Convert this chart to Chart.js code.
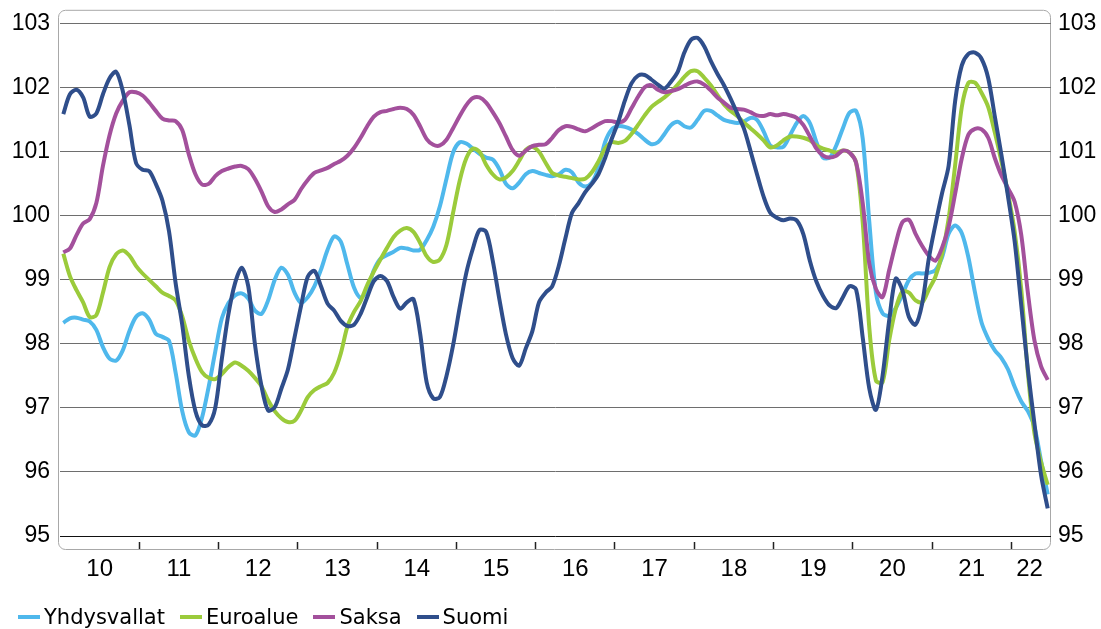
<!DOCTYPE html>
<html>
<head>
<meta charset="utf-8">
<script src="https://cdn.jsdelivr.net/npm/chart.js@4/dist/chart.umd.min.js"></script>
<style>
  html, body { margin: 0; padding: 0; background: #fff; }
  #wrap { position: relative; width: 1101px; height: 629px; }
  #legend { position: absolute; left: 18px; top: 605px; font-family: 'DejaVu Sans', Verdana, sans-serif; font-size: 21px; line-height: 24px; color: #000; white-space: nowrap; }
  #legend .item { display: inline-block; margin-right: 15px; }
  #legend .swatch { display: inline-block; width: 22px; height: 4px; margin-right: 4px; vertical-align: middle; position: relative; top: -1px; }
</style>
</head>
<body>
<div id="wrap">
  <canvas id="chart" width="1101" height="629"></canvas>
  <div id="legend"></div>
</div>
<script>
// monthly series, Jan 2010 .. Jun 2022
const yearLabels = ['10', '11', '12', '13', '14', '15', '16', '17', '18', '19', '20', '21', '22'];
const seriesNames = ['Yhdysvallat', 'Euroalue', 'Saksa', 'Suomi'];
const seriesColors = ['#4fb8ec', '#9bcb3b', '#a3509c', '#2f4e8b'];

const yhdysvallat = [
  98.33, 98.40, 98.41, 98.38, 98.35, 98.22, 97.95, 97.77, 97.74, 97.90, 98.20, 98.42,
  98.48, 98.38, 98.16, 98.11, 98.05, 97.55, 96.95, 96.62, 96.57, 96.85, 97.33, 97.88,
  98.40, 98.64, 98.76, 98.79, 98.71, 98.52, 98.47, 98.68, 99.00, 99.19, 99.08, 98.80,
  98.64, 98.73, 98.90, 99.16, 99.47, 99.68, 99.60, 99.24, 98.88, 98.72, 98.84, 99.15,
  99.33, 99.39, 99.44, 99.50, 99.49, 99.46, 99.47, 99.62, 99.83, 100.15, 100.58, 100.99,
  101.15, 101.13, 101.05, 100.97, 100.91, 100.88, 100.73, 100.50, 100.43, 100.52, 100.65, 100.70,
  100.67, 100.64, 100.62, 100.65, 100.72, 100.68, 100.52, 100.46, 100.52, 100.75, 101.15, 101.35,
  101.40, 101.39, 101.35, 101.28, 101.19, 101.12, 101.15, 101.28, 101.42, 101.47, 101.40, 101.38,
  101.50, 101.64, 101.64, 101.57, 101.50, 101.47, 101.45, 101.47, 101.53, 101.50, 101.32, 101.10,
  101.07, 101.08, 101.26, 101.45, 101.56, 101.45, 101.15, 100.91, 100.91, 101.10, 101.37, 101.61,
  101.64, 101.21, 99.90, 98.80, 98.48, 98.44, 98.56, 98.77, 99.00, 99.10, 99.10, 99.11,
  99.15, 99.35, 99.72, 99.85, 99.73, 99.35, 98.80, 98.33, 98.08, 97.90, 97.78, 97.60,
  97.33, 97.10, 96.95, 96.70, 96.17, 95.65
];

const euroalue = [
  99.41, 99.06, 98.84, 98.65, 98.42, 98.45, 98.80, 99.20, 99.40, 99.46, 99.38, 99.22,
  99.10, 99.00, 98.90, 98.80, 98.75, 98.68, 98.43, 98.05, 97.77, 97.56, 97.47, 97.45,
  97.53, 97.64, 97.71, 97.66, 97.58, 97.47, 97.34, 97.12, 96.95, 96.84, 96.78, 96.80,
  96.96, 97.17, 97.28, 97.34, 97.39, 97.55, 97.85, 98.27, 98.50, 98.67, 98.92, 99.13,
  99.32, 99.50, 99.67, 99.77, 99.81, 99.75, 99.58, 99.37, 99.28, 99.32, 99.55, 100.05,
  100.55, 100.90, 101.05, 101.00, 100.80, 100.65, 100.57, 100.60, 100.70, 100.86, 101.03, 101.08,
  101.00, 100.83, 100.67, 100.63, 100.61, 100.59, 100.57, 100.58, 100.68, 100.85, 101.05, 101.15,
  101.14, 101.17, 101.28, 101.42, 101.57, 101.70, 101.78, 101.85, 101.94, 102.05, 102.17, 102.26,
  102.26, 102.16, 102.04, 101.89, 101.74, 101.64, 101.56, 101.46, 101.37, 101.28, 101.18, 101.07,
  101.10, 101.18, 101.24, 101.24, 101.22, 101.18, 101.10, 101.05, 101.02, 100.99, 101.02, 100.99,
  100.83, 99.90, 98.25, 97.43, 97.40, 98.05, 98.55, 98.82, 98.80, 98.68, 98.65, 98.85,
  99.05, 99.40, 99.95, 100.80, 101.70, 102.08, 102.08, 101.92, 101.70, 101.30, 100.85, 100.35,
  99.75, 98.85, 97.55, 96.60, 96.15, 95.80
];

const saksa = [
  99.43, 99.49, 99.70, 99.88, 99.95, 100.20, 100.78, 101.26, 101.60, 101.80, 101.93, 101.93,
  101.88, 101.77, 101.64, 101.52, 101.49, 101.48, 101.34, 100.96, 100.65, 100.49, 100.50, 100.62,
  100.70, 100.74, 100.77, 100.78, 100.73, 100.58, 100.38, 100.15, 100.06, 100.10, 100.18, 100.25,
  100.42, 100.56, 100.67, 100.71, 100.75, 100.81, 100.86, 100.94, 101.06, 101.22, 101.40, 101.55,
  101.62, 101.64, 101.67, 101.69, 101.67, 101.58, 101.40, 101.20, 101.11, 101.10, 101.19, 101.37,
  101.56, 101.73, 101.84, 101.85, 101.77, 101.62, 101.45, 101.24, 101.03, 100.94, 101.02, 101.09,
  101.11, 101.12, 101.22, 101.34, 101.40, 101.39, 101.35, 101.32, 101.37, 101.43, 101.48, 101.48,
  101.46, 101.50, 101.68, 101.86, 102.01, 102.04, 101.97, 101.93, 101.95, 101.98, 102.03, 102.08,
  102.10, 102.05, 101.96, 101.85, 101.77, 101.69, 101.67, 101.66, 101.62, 101.57, 101.56, 101.59,
  101.57, 101.59, 101.57, 101.53, 101.42, 101.24, 101.05, 100.94, 100.91, 100.94, 101.02, 100.99,
  100.83, 100.20, 99.25, 98.86, 98.73, 99.15, 99.57, 99.90, 99.94, 99.72, 99.53, 99.38,
  99.30, 99.50, 99.83, 100.35, 100.90, 101.27, 101.36, 101.35, 101.22, 100.90, 100.63, 100.43,
  100.22, 99.70, 98.80, 98.05, 97.65, 97.44
];

const suomi = [
  101.59, 101.90, 101.97, 101.85, 101.55, 101.60, 101.90, 102.15, 102.25, 101.95, 101.42, 100.83,
  100.72, 100.70, 100.50, 100.24, 99.76, 98.95, 98.30, 97.50, 96.95, 96.73, 96.74, 97.00,
  97.77, 98.47, 98.95, 99.19, 98.90, 98.00, 97.34, 96.96, 97.01, 97.30, 97.60, 98.10,
  98.60, 99.05, 99.14, 98.90, 98.63, 98.52, 98.36, 98.28, 98.30, 98.47, 98.73, 98.98,
  99.06, 98.98, 98.73, 98.55, 98.65, 98.70, 98.17, 97.40, 97.15, 97.17, 97.50, 97.98,
  98.57, 99.11, 99.49, 99.78, 99.75, 99.30, 98.70, 98.15, 97.78, 97.66, 97.93, 98.20,
  98.65, 98.80, 98.90, 99.22, 99.65, 100.05, 100.20, 100.37, 100.50, 100.65, 100.90, 101.20,
  101.47, 101.80, 102.07, 102.19, 102.20, 102.13, 102.05, 101.99, 102.10, 102.25, 102.55, 102.75,
  102.78, 102.65, 102.42, 102.22, 102.04, 101.83, 101.60, 101.37, 101.02, 100.65, 100.30, 100.05,
  99.97, 99.93, 99.96, 99.93, 99.72, 99.30, 98.97, 98.75, 98.60, 98.56, 98.73, 98.90,
  98.85, 98.10, 97.30, 96.97, 97.50, 98.36, 99.02, 98.84, 98.42, 98.30, 98.63, 99.33,
  99.86, 100.35, 100.78, 101.80, 102.35, 102.53, 102.55, 102.45, 102.15, 101.55, 100.95, 100.30,
  99.60, 98.60, 97.60, 96.75, 95.95, 95.43
];

const allSeries = [yhdysvallat, euroalue, saksa, suomi];
const monthCount = suomi.length;

// year boundaries get tick marks, year middles get the labels
const boundaryTicks = [];
const labelTicks = [];
for (let k = 0; k < yearLabels.length; k++) {
  if (k > 0) boundaryTicks.push(k * 12);
  const full = (k + 1) * 12 <= monthCount;
  // a partial last year is labelled midway between its start and the last point
  const mid = full ? k * 12 + 6 : (k * 12 + monthCount - 0.5) / 2;
  labelTicks.push({ value: mid, label: yearLabels[k] });
}

const plotBorder = {
  id: 'plotBorder',
  beforeDraw(chart) {
    const { ctx, chartArea } = chart;
    const x = chartArea.left - 2, y = chartArea.top - 14;
    const w = chartArea.right - 1 - x, h = chartArea.bottom + 13 - y;
    ctx.save();
    ctx.strokeStyle = '#a8a8a8';
    ctx.lineWidth = 1;
    ctx.beginPath();
    ctx.roundRect(x + 0.5, y + 0.5, w, h, 7);
    ctx.stroke();
    ctx.restore();
  }
};

const tickFont = { family: "'Liberation Sans', Arial, sans-serif", size: 23 };

new Chart(document.getElementById('chart'), {
  type: 'line',
  data: {
    datasets: allSeries.map((values, s) => ({
      label: seriesNames[s],
      data: values.map((v, i) => ({ x: i + 0.5, y: v })),
      borderColor: seriesColors[s],
      backgroundColor: seriesColors[s],
      borderWidth: 4,
      pointRadius: 0,
      tension: 0.3,
      fill: false,
      order: allSeries.length - s // later series on top, like the original
    }))
  },
  options: {
    responsive: false,
    animation: false,
    layout: { padding: { top: 22, left: 0, right: 0, bottom: 0 } },
    plugins: {
      legend: { display: false },
      tooltip: { enabled: false }
    },
    scales: {
      x: {
        type: 'linear',
        min: 0,
        max: monthCount,
        afterBuildTicks: (scale) => {
          const ticks = boundaryTicks.map(v => ({ value: v }))
            .concat(labelTicks.map(t => ({ value: t.value })));
          ticks.sort((a, b) => a.value - b.value);
          scale.ticks = ticks;
        },
        afterFit: (scale) => { scale.height = 93; },
        border: { display: false },
        grid: {
          drawOnChartArea: false,
          tickLength: 13,
          tickWidth: 1.5,
          tickBorderDash: [0, 6, 7, 50],
          tickColor: (ctx) => (ctx.tick && ctx.tick.value % 12 === 0) ? '#222' : 'rgba(0,0,0,0)'
        },
        ticks: {
          autoSkip: false,
          maxRotation: 0,
          padding: 6,
          color: '#000',
          font: { family: "'Liberation Sans', Arial, sans-serif", size: 24 },
          callback: (value) => {
            const t = labelTicks.find(l => l.value === value);
            return t ? t.label : '';
          }
        }
      },
      y: {
        position: 'left',
        min: 95,
        max: 103,
        afterFit: (scale) => { scale.width = 60; },
        border: { display: false },
        grid: {
          drawTicks: false,
          lineWidth: 1,
          color: (ctx) => ctx.tick && ctx.tick.value === 95 ? '#111' : '#6e6e6e'
        },
        ticks: { stepSize: 1, padding: 10, color: '#000', font: tickFont }
      },
      y2: {
        position: 'right',
        min: 95,
        max: 103,
        afterFit: (scale) => { scale.width = 50; },
        border: { display: false },
        grid: { drawOnChartArea: false, drawTicks: false },
        ticks: { stepSize: 1, padding: 7, color: '#000', font: tickFont }
      }
    }
  },
  plugins: [plotBorder]
});

// legend below the plot
const legendEl = document.getElementById('legend');
seriesNames.forEach((name, s) => {
  const item = document.createElement('span');
  item.className = 'item';
  item.innerHTML = `<span class="swatch" style="background:${seriesColors[s]}"></span>${name}`;
  legendEl.appendChild(item);
});
</script>
</body>
</html>
